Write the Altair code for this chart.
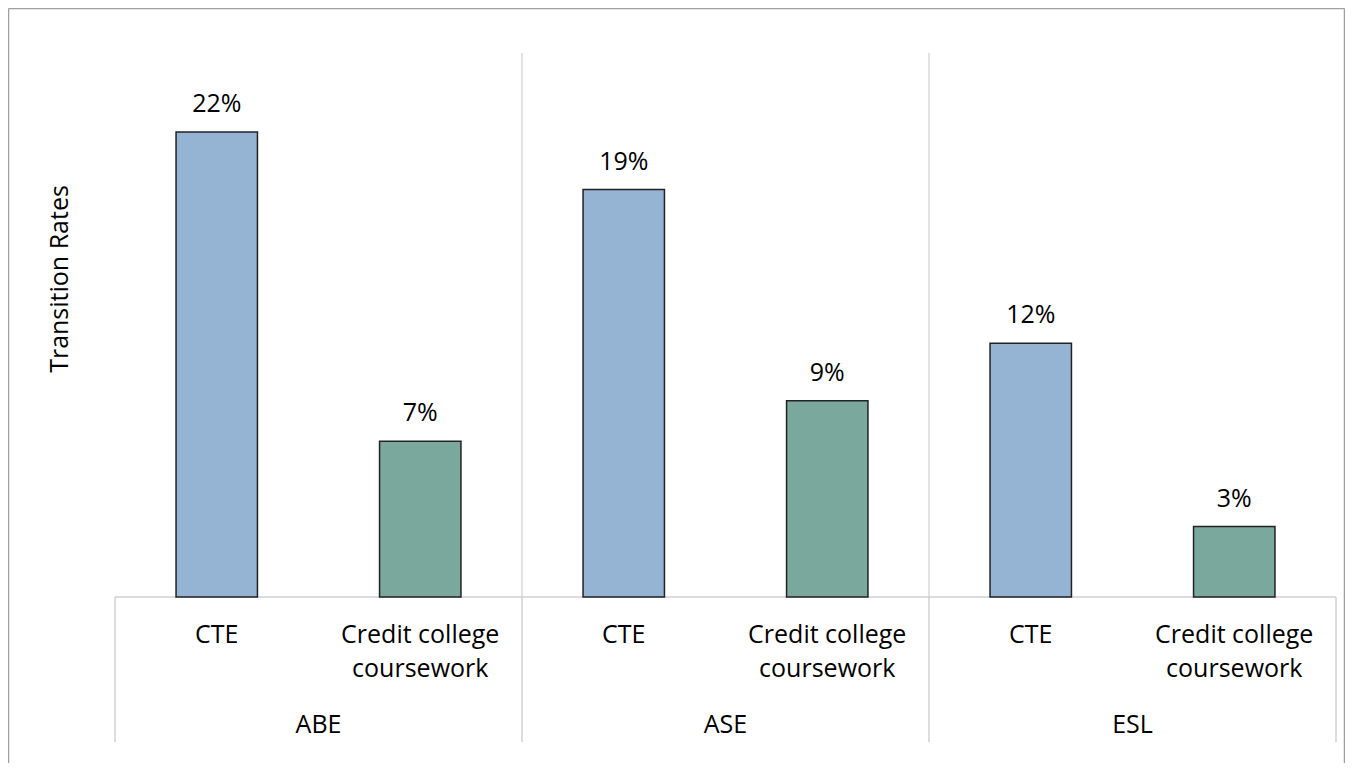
import altair as alt
import pandas as pd

# ---- data ----
groups = ["ABE", "ABE", "ASE", "ASE", "ESL", "ESL"]
types = ["CTE", "Credit college coursework", "CTE", "Credit college coursework",
         "CTE", "Credit college coursework"]
type_lines = {"CTE": ["CTE"], "Credit college coursework": ["Credit college", "coursework"]}
values = [0.218, 0.073, 0.191, 0.092, 0.119, 0.033]
group_names = ["ABE", "ASE", "ESL"]
colors = {"CTE": "#95b3d3", "Credit college coursework": "#7ba89c"}
y_title = "Transition Rates"

FONT = "Open Sans"
FS = 25
W, H = 1221, 544
BAR_HALF = 0.2

positions = list(range(len(values)))
bars = pd.DataFrame({
    "group": groups,
    "type": types,
    "value": values,
    "pos": positions,
    "x0": [p - BAR_HALF for p in positions],
    "x1": [p + BAR_HALF for p in positions],
    "zero": [0.0] * len(values),
    "label": ["\n".join(type_lines[t]) for t in types],
})

g_lo, g_hi, g_c = [], [], []
for g in group_names:
    ps = [p for p, gg in zip(positions, groups) if gg == g]
    g_lo.append(min(ps) - 0.5)
    g_hi.append(max(ps) + 0.5)
    g_c.append((min(ps) + max(ps)) / 2)
grp = pd.DataFrame({"group": group_names, "center": g_c, "lo": g_lo, "hi": g_hi})

bounds = sorted(set(g_lo) | set(g_hi))
inner = pd.DataFrame({"b": bounds[1:-1]})
allb = pd.DataFrame({"b": bounds})
base_line = pd.DataFrame({"lo": [bounds[0]], "hi": [bounds[-1]]})

xs = alt.Scale(domain=[bounds[0], bounds[-1]], nice=False, zero=False)
ys = alt.Scale(domain=[0, 0.255], nice=False)

bar_layer = alt.Chart(bars).mark_bar(stroke="#222222", strokeWidth=1.5).encode(
    x=alt.X("x0:Q", scale=xs, axis=None),
    x2="x1:Q",
    y=alt.Y("value:Q", scale=ys, axis=None),
    y2="zero:Q",
    color=alt.Color("type:N", scale=alt.Scale(domain=list(colors.keys()),
                                              range=list(colors.values())), legend=None),
)

val_text = alt.Chart(bars).mark_text(font=FONT, fontSize=FS, baseline="alphabetic",
                                     dy=-20, color="#000").encode(
    x=alt.X("pos:Q", scale=xs, axis=None),
    y=alt.Y("value:Q", scale=ys, axis=None),
    text=alt.Text("value:Q", format=".0%"),
)

sep = alt.Chart(inner).mark_rule(color="#d9d9d9", strokeWidth=1.5).encode(
    x=alt.X("b:Q", scale=xs, axis=None),
    y=alt.value(0),
    y2=alt.value(H),
)

axis_v = alt.Chart(allb).mark_rule(color="#d0d0d0", strokeWidth=1.5).encode(
    x=alt.X("b:Q", scale=xs, axis=None),
    y=alt.value(H),
    y2=alt.value(H + 145),
)

axis_h = alt.Chart(base_line).mark_rule(color="#d0d0d0", strokeWidth=1.5).encode(
    x=alt.X("lo:Q", scale=xs, axis=None),
    x2="hi:Q",
    y=alt.value(H),
)

cat_text = alt.Chart(bars).mark_text(font=FONT, fontSize=FS, baseline="alphabetic",
                                     lineBreak="\n", lineHeight=34, color="#000").encode(
    x=alt.X("pos:Q", scale=xs, axis=None),
    y=alt.value(H + 46),
    text="label:N",
)

grp_text = alt.Chart(grp).mark_text(font=FONT, fontSize=FS, baseline="alphabetic",
                                    color="#000").encode(
    x=alt.X("center:Q", scale=xs, axis=None),
    y=alt.value(H + 136),
    text="group:N",
)

title_df = pd.DataFrame({"t": [y_title]})
ytitle = alt.Chart(title_df).mark_text(font=FONT, fontSize=FS, angle=270,
                                       baseline="middle", align="center",
                                       color="#000").encode(
    x=alt.value(-55),
    y=alt.value(226),
    text="t:N",
)

frame_df = pd.DataFrame({"k": [0]})
frame_color = "#a0a0a0"
fl = alt.Chart(frame_df).mark_rule(color=frame_color, strokeWidth=1.5).encode(
    x=alt.value(-106.5), y=alt.value(-44.5), y2=alt.value(H + 166))
fr = alt.Chart(frame_df).mark_rule(color=frame_color, strokeWidth=1.5).encode(
    x=alt.value(W + 8.5), y=alt.value(-44.5), y2=alt.value(H + 166))
ft = alt.Chart(frame_df).mark_rule(color=frame_color, strokeWidth=1.5).encode(
    x=alt.value(-106.5), x2=alt.value(W + 8.5), y=alt.value(-44.5))

chart = alt.layer(
    fl, fr, ft, sep, axis_v, axis_h, bar_layer, val_text, cat_text, grp_text, ytitle
).properties(
    width=W, height=H,
    autosize=alt.AutoSizeParams(type="none"),
    padding={"left": 107, "top": 45, "right": 9, "bottom": 166},
).configure_view(stroke=None)

chart.save("out.html", embed_options={"renderer": "svg", "actions": False})
